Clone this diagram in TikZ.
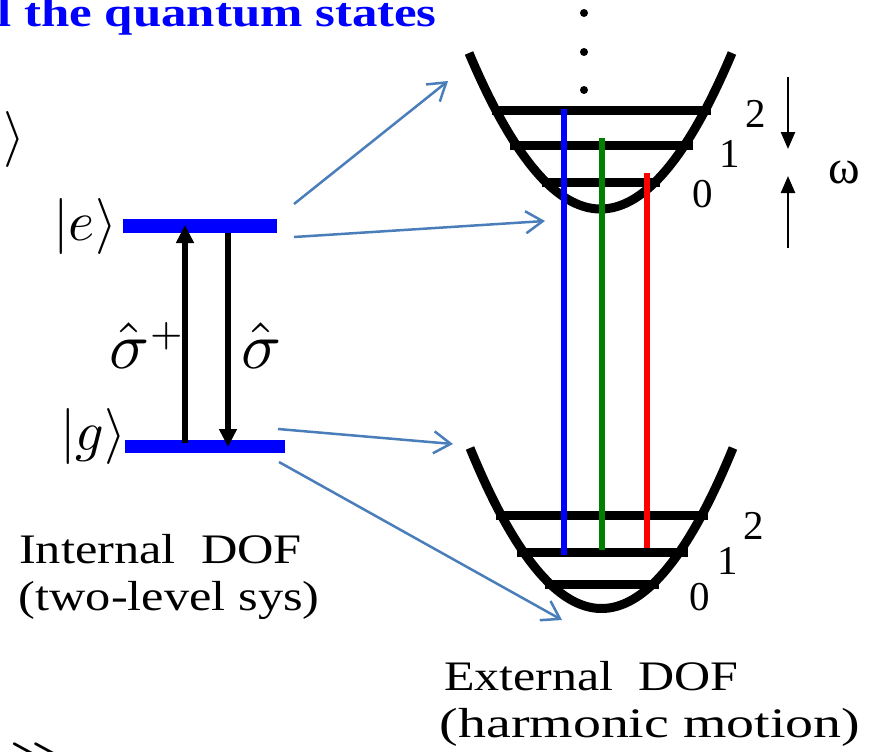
\documentclass[tikz,border=0pt]{standalone}
\usepackage{fontspec}
\setmainfont{Liberation Serif}
\usepackage{graphicx}
\usetikzlibrary{arrows.meta}
\definecolor{steel}{HTML}{4A7EBB}
\definecolor{dgreen}{HTML}{008000}
\begin{document}
\begin{tikzpicture}[x=1pt,y=-1pt,
  bar/.style={fill=blue, inner sep=0pt, minimum height=13.5pt},
  well/.style={line width=9pt},
  lvl/.style={line width=9pt},
  trans/.style={line width=6pt},
  link/.style={draw=steel, line width=2.5pt, -{Straight Barb[length=17pt,width=22pt]}},
  opline/.style={line width=6pt, -{Triangle[length=18pt,width=17pt]}},
  omarrow/.style={line width=2.5pt, -{Triangle[length=17pt,width=14pt]}},
  num/.style={inner sep=0pt, font=\fontsize{41}{41}\selectfont},
  ket/.style={anchor=base east, inner sep=0pt},
  op/.style={anchor=base west, inner sep=0pt},
  desc/.style={anchor=base west, inner sep=0pt, font=\fontsize{42}{46}\selectfont}
]
\useasboundingbox (0,0) rectangle (873,752);
\fill[white] (0,0) rectangle (873,752);
\clip (0,0) rectangle (873,752);

% title (cut at the left edge)
\node[anchor=base east, inner sep=0pt, text=blue, font=\bfseries\fontsize{41}{44}\selectfont] (title) at (437,27) {\scalebox{1.24}[1]{l the quantum states}};

% partial ket at the left edge
\node[ket] (kpart) at (25,153) {\scalebox{5.6}{$e\rangle$}};

% two-level system
\node[bar, minimum width=154pt] (ebar) at (200,226) {};
\node[bar, minimum width=160pt] (gbar) at (205,446.5) {};
\node[ket] (kete) at (117,240) {\scalebox{5.6}{$|e\rangle$}};
\node[ket] (ketg) at (126.5,450) {\scalebox{5.6}{$|g\rangle$}};

\coordinate (up0) at (185,443);
\coordinate (up1) at (185,225);
\coordinate (dn0) at (228,233);
\coordinate (dn1) at (228,447);
\draw[opline] (up0) -- (up1);
\draw[opline] (dn0) -- (dn1);
\node[op] (splus) at (109,368) {\scalebox{6.6}{$\hat{\sigma}^{\scriptscriptstyle +}$}};
\node[op] (sminus) at (241,368) {\scalebox{6.6}{$\hat{\sigma}$}};

\node[desc] (int1) at (19,563) {\scalebox{1.2}[1]{Internal~~DOF}};
\node[desc] (int2) at (18.5,610) {\scalebox{1.2}[1]{(two-level sys)}};

% wells
\draw[well] plot[domain=-131.5:131.5, samples=80] ({600.5+\x},{209-156*(\x/131.5)^2});
\draw[well] plot[domain=-131.5:131.5, samples=80] ({601.5+\x},{608.5-160.5*(\x/131.5)^2});

\draw[lvl] (492,110) -- (711,110);
\draw[lvl] (510,145.5) -- (693,145.5);
\draw[lvl] (542,182) -- (660,182);
\draw[lvl] (496,515) -- (708,515);
\draw[lvl] (517,552) -- (688,552);
\draw[lvl] (545,584) -- (659,584);

\fill (584,13) circle[radius=4pt];
\fill (584,52) circle[radius=4pt];
\fill (584,90) circle[radius=4pt];

% transitions
\coordinate (bt) at (564,109);  \coordinate (bb) at (564,555);
\coordinate (gt) at (602,138);  \coordinate (gb) at (602,550);
\coordinate (rt) at (647,173);  \coordinate (rb) at (647,548);
\draw[trans, blue] (bt) -- (bb);
\draw[trans, dgreen] (gt) -- (gb);
\draw[trans, red] (rt) -- (rb);

% level numbers
\node[num] (u2) at (756,114) {2};
\node[num] (u1) at (730,154) {1};
\node[num] (u0) at (703,194) {0};
\node[num] (l2) at (754,526) {2};
\node[num] (l1) at (728,561) {1};
\node[num] (l0) at (700,597) {0};

% omega
\coordinate (wa0) at (788,77);  \coordinate (wa1) at (788,149);
\coordinate (wb0) at (788,248); \coordinate (wb1) at (788,176);
\draw[omarrow] (wa0) -- (wa1);
\draw[omarrow] (wb0) -- (wb1);
\node[inner sep=0pt, font=\fontsize{48}{48}\selectfont] (om) at (844,172) {ω};

% links
\coordinate (s1) at (294,204); \coordinate (t1) at (448,81);
\coordinate (s2) at (294,237); \coordinate (t2) at (545,221);
\coordinate (s3) at (278,429); \coordinate (t3) at (453,444);
\coordinate (s4) at (279,462); \coordinate (t4) at (562,620);
\draw[link] (s1) -- (t1);
\draw[link] (s2) -- (t2);
\draw[link] (s3) -- (t3);
\draw[link] (s4) -- (t4);

\node[desc] (ext1) at (444,690) {\scalebox{1.19}[1]{External~~DOF}};
\node[desc] (ext2) at (439.5,737) {\scalebox{1.33}[1]{(harmonic motion)}};

% partial formula at the bottom edge
\node[anchor=base west, inner sep=0pt] (gg) at (9,782) {\scalebox{7}{$\gg$}};
\node[anchor=base west, inner sep=0pt] (dd) at (118,822) {\scalebox{8}{\bfseries\itshape d}};
\end{tikzpicture}
\end{document}
